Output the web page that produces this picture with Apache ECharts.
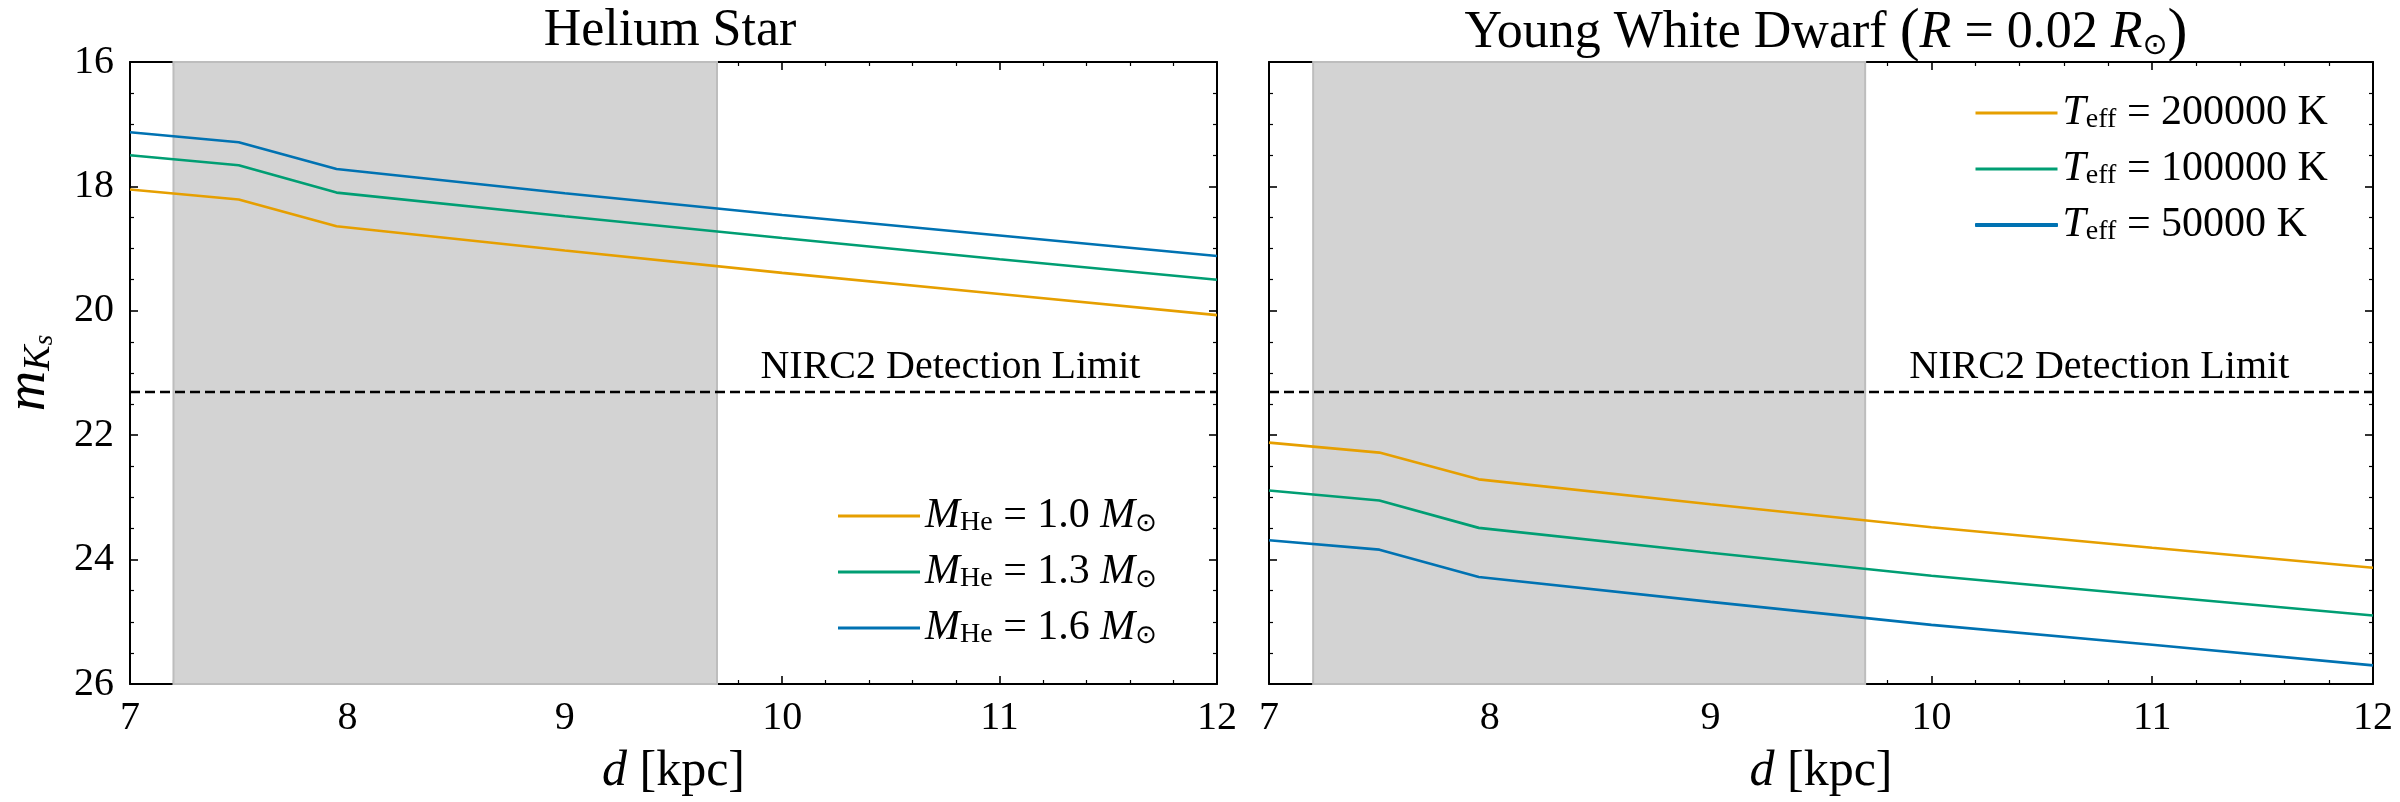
<!DOCTYPE html>
<html>
<head>
<meta charset="utf-8">
<script src="https://cdn.jsdelivr.net/npm/echarts@6/dist/echarts.min.js"></script>
<style>
  html, body { margin: 0; padding: 0; background: #fff; }
  #main { width: 2400px; height: 802px; }
</style>
</head>
<body>
<div id="main"></div>
<script type="text/javascript">
  // distances [kpc] where the curves bend / are sampled
  var distKpc = [7, 7.5, 7.95, 9, 10, 11, 12];

  // Helium star, K_s magnitude
  var heMass10 = [18.05, 18.21, 18.64, 19.03, 19.39, 19.73, 20.07];
  var heMass13 = [17.50, 17.66, 18.10, 18.48, 18.83, 19.17, 19.50];
  var heMass16 = [17.13, 17.29, 17.72, 18.11, 18.46, 18.79, 19.12];

  // young white dwarf, K_s magnitude
  var wdT200k = [22.12, 22.28, 22.71, 23.11, 23.48, 23.81, 24.13];
  var wdT100k = [22.89, 23.05, 23.49, 23.89, 24.26, 24.58, 24.90];
  var wdT50k  = [23.69, 23.84, 24.28, 24.68, 25.05, 25.37, 25.70];

  var shadeRange = [7.2, 9.7];
  var nircLimit = 21.3;
  var nircLabelAt = 9.9;

  var heNames = ['M_He = 1.0', 'M_He = 1.3', 'M_He = 1.6'];
  var heLabels = ['1.0', '1.3', '1.6'];
  var wdNames = ['T_eff = 200000 K', 'T_eff = 100000 K', 'T_eff = 50000 K'];
  var wdLabels = ['200000', '100000', '50000'];

  var colors = ['#E69F00', '#009E73', '#0072B2'];
  var serif = '"Liberation Serif", serif';

  var dom = document.getElementById('main');
  var chart = echarts.init(dom);

  function st(size, italic, extra) {
    var s = {
      fontFamily: serif, fontSize: size, fontWeight: 'normal',
      fontStyle: italic ? 'italic' : 'normal', color: '#000'
    };
    for (var k in extra) s[k] = extra[k];
    return s;
  }

  var sunStyle = { fontFamily: '"DejaVu Sans", sans-serif', fontSize: 26, fontWeight: 'normal', lineHeight: 20, verticalAlign: 'bottom', color: '#000' };

  var rich = {
    i: st(42, true, { lineHeight: 42 }),
    r: st(42, false, { lineHeight: 42 }),
    sub: st(28, false, { lineHeight: 20, verticalAlign: 'bottom' }),
    sun: sunStyle
  };

  function pairs(xs, ys) {
    var out = [];
    for (var k = 0; k < xs.length; k++) out.push([xs[k], ys[k]]);
    return out;
  }

  function xAx(grid, top) {
    return {
      type: 'value', gridIndex: grid, position: top ? 'top' : 'bottom',
      min: 7, max: 12, interval: 1,
      axisLine: { show: true, onZero: false, lineStyle: { color: '#000', width: 2 } },
      axisTick: { show: true, inside: true, length: 8, lineStyle: { color: '#000', width: 1.6 } },
      minorTick: { show: true, splitNumber: 5, length: 4, lineStyle: { color: '#000', width: 1.2 } },
      splitLine: { show: false },
      axisLabel: st(40, false, { show: !top, margin: 14, showMinLabel: true, showMaxLabel: true }),
      name: top ? '' : '{i|d}{r| [kpc]}',
      nameLocation: 'middle', nameGap: 60,
      nameTextStyle: {
        rich: { i: st(50, true, { lineHeight: 56 }), r: st(50, false, { lineHeight: 56 }) }
      }
    };
  }

  function yAx(grid, right, labels) {
    return {
      type: 'value', gridIndex: grid, position: right ? 'right' : 'left',
      inverse: true, min: 16, max: 26, interval: 2,
      axisLine: { show: true, onZero: false, lineStyle: { color: '#000', width: 2 } },
      axisTick: { show: true, inside: true, length: 8, lineStyle: { color: '#000', width: 1.6 } },
      minorTick: { show: true, splitNumber: 4, length: 4, lineStyle: { color: '#000', width: 1.2 } },
      splitLine: { show: false },
      axisLabel: st(40, false, { show: labels, margin: 16, showMinLabel: true, showMaxLabel: true }),
      name: labels ? '{m|m}{k|K}{s|s}' : '',
      nameLocation: 'middle', nameRotate: 90, nameGap: 72,
      nameTextStyle: {
        rich: {
          m: st(56, true, { lineHeight: 58 }),
          k: st(38, true, { lineHeight: 38, verticalAlign: 'bottom' }),
          s: st(27, true, { lineHeight: 24, verticalAlign: 'bottom' })
        }
      }
    };
  }

  // background helper per panel: shaded band, detection limit and its label
  function decor(grid) {
    return {
      name: 'decor' + grid, type: 'line', xAxisIndex: grid * 2, yAxisIndex: grid * 2,
      data: [], silent: true, z: 1,
      markArea: {
        silent: true,
        itemStyle: { color: '#d3d3d3', borderColor: '#bdbdbd', borderWidth: 2 },
        data: [[{ xAxis: shadeRange[0] }, { xAxis: shadeRange[1] }]]
      },
      markLine: {
        silent: true, symbol: 'none', animation: false,
        label: { show: false },
        lineStyle: { color: '#000', width: 2.4, type: [10, 5] },
        data: [{ yAxis: nircLimit }]
      },
      markPoint: {
        silent: true, symbol: 'circle', symbolSize: 0,
        label: st(40, false, {
          show: true, position: [0, -4], align: 'left', verticalAlign: 'bottom',
          formatter: 'NIRC2 Detection Limit'
        }),
        data: [{ coord: [nircLabelAt, nircLimit] }]
      }
    };
  }

  function curve(name, grid, ys, ci) {
    return {
      name: name, type: 'line', xAxisIndex: grid * 2, yAxisIndex: grid * 2,
      data: pairs(distKpc, ys), symbol: 'none', showSymbol: false, z: 3,
      color: colors[ci],
      lineStyle: { color: colors[ci], width: 2.6 }
    };
  }

  var option = {
    animation: false,
    backgroundColor: '#fff',
    textStyle: { fontFamily: serif, fontWeight: 'normal', color: '#000' },
    title: [
      {
        text: 'Helium Star', left: 665, top: 0, textAlign: 'center',
        textStyle: st(52, false)
      },
      {
        text: '{r|Young White Dwarf }{p|(}{i|R}{r| = 0.02 }{i|R}{sun|\u2299}{p|)}',
        left: 1821, top: 0, textAlign: 'center',
        textStyle: {
          fontWeight: 'normal',
          rich: {
            r: st(52, false, { lineHeight: 56 }),
            p: st(60, false, { lineHeight: 56 }),
            i: st(52, true, { lineHeight: 56 }),
            sun: { fontFamily: '"DejaVu Sans", sans-serif', fontSize: 30, fontWeight: 'normal', lineHeight: 28, verticalAlign: 'bottom', color: '#000' }
          }
        }
      }
    ],
    legend: [
      {
        data: heNames, orient: 'vertical', left: 833, top: 490,
        icon: 'rect', itemWidth: 82, itemHeight: 3, itemGap: 14,
        selectedMode: false, itemTextGap: 33,
        formatter: function (n) {
          return '{i|M}{sub|He}{r| = ' + heLabels[heNames.indexOf(n)] + ' }{i|M}{sun|\u2299}';
        },
        textStyle: { rich: rich }
      },
      {
        data: [
          wdNames[0], wdNames[1],
          { name: wdNames[2], itemStyle: { borderColor: colors[2], borderWidth: 1 } }
        ],
        orient: 'vertical', left: 1970, top: 87,
        icon: 'rect', itemWidth: 82, itemHeight: 3, itemGap: 14,
        selectedMode: false, itemTextGap: 33,
        formatter: function (n) {
          return '{i|T}{sub|eff}{r| = ' + wdLabels[wdNames.indexOf(n)] + ' K}';
        },
        textStyle: { rich: rich }
      }
    ],
    grid: [
      { left: 113, top: 62, width: 1104, height: 623 },
      { left: 1269, top: 62, width: 1104, height: 623 }
    ],
    xAxis: [xAx(0, false), xAx(0, true), xAx(1, false), xAx(1, true)],
    yAxis: [yAx(0, false, true), yAx(0, true, false), yAx(1, false, false), yAx(1, true, false)],
    series: [
      decor(0),
      decor(1),
      curve(heNames[0], 0, heMass10, 0),
      curve(heNames[1], 0, heMass13, 1),
      curve(heNames[2], 0, heMass16, 2),
      curve(wdNames[0], 1, wdT200k, 0),
      curve(wdNames[1], 1, wdT100k, 1),
      curve(wdNames[2], 1, wdT50k, 2)
    ]
  };

  chart.setOption(option);
</script>
</body>
</html>
